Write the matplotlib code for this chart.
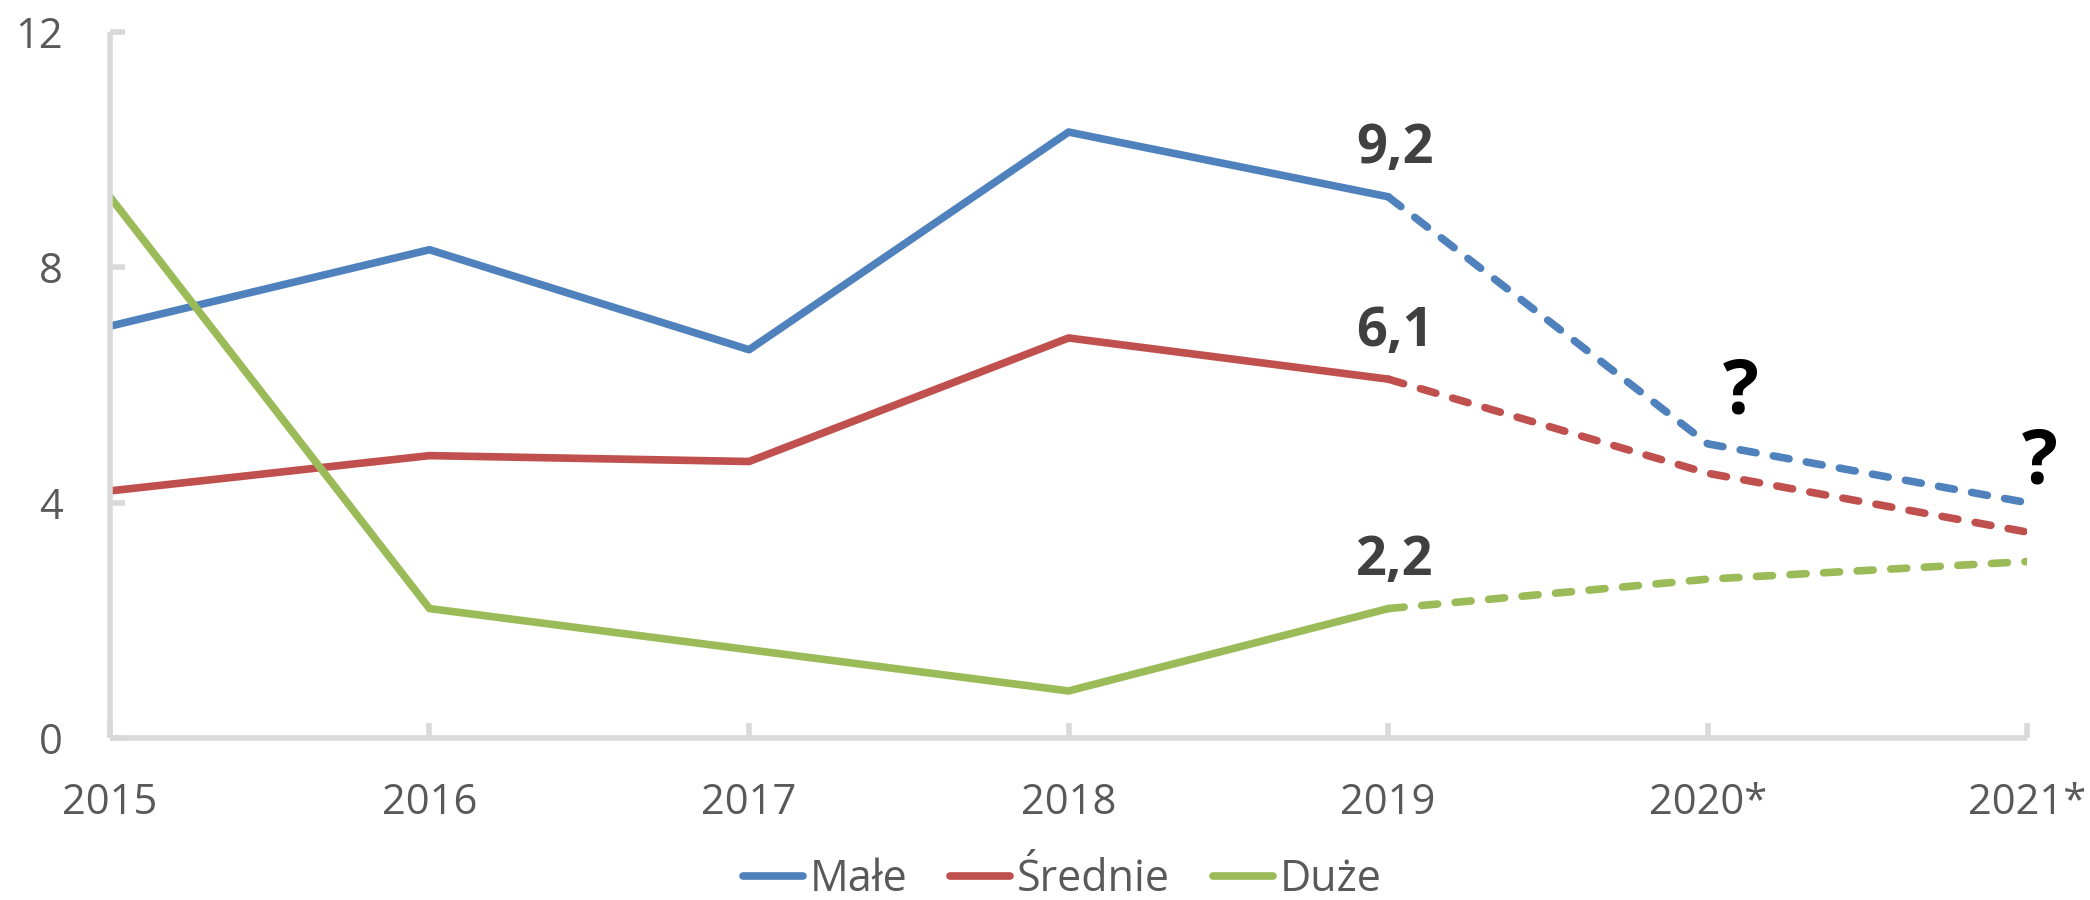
import matplotlib
matplotlib.use("Agg")
import matplotlib.pyplot as plt

plt.rcParams['font.family'] = ['Open Sans', 'DejaVu Sans']

# dane
lata = ['2015', '2016', '2017', '2018', '2019', '2020*', '2021*']
male = [7.0, 8.3, 6.6, 10.3, 9.2, 5.0, 4.0]
srednie = [4.2, 4.8, 4.7, 6.8, 6.1, 4.5, 3.5]
duze = [9.2, 2.2, 1.5, 0.8, 2.2, 2.7, 3.0]
serie = [('Małe', male, '#4F81BD'),
         ('Średnie', srednie, '#C0504D'),
         ('Duże', duze, '#9BBB59')]
ostatni_rzeczywisty = 4  # 2019, dalej prognoza

fig = plt.figure(figsize=(20.9, 9), dpi=100)
ax = fig.add_axes([0.0526, 0.18, 0.9174, 0.7844])

x = list(range(len(lata)))
k = ostatni_rzeczywisty
for nazwa, wart, kolor in serie:
    ax.plot(x[:k + 1], wart[:k + 1], color=kolor, lw=5.5, label=nazwa,
            solid_capstyle='round', solid_joinstyle='round')
    ax.plot(x[k:], wart[k:], color=kolor, lw=5.5, dashes=(2.1, 2.3),
            dash_capstyle='round', dash_joinstyle='round')
    # etykieta wartosci dla 2019
    ax.annotate(f"{wart[k]:.1f}".replace('.', ','), (x[k], wart[k]),
                xytext=(5, 24), textcoords='offset points',
                ha='center', va='baseline', fontsize=39, fontweight='bold',
                color='#404040')

# znaki zapytania przy prognozach
ax.annotate('?', (x[5], male[5]), xytext=(24, 22), textcoords='offset points',
            ha='center', va='baseline', fontsize=54, fontweight='bold', color='black')
ax.annotate('?', (x[6], male[6]), xytext=(9, 14), textcoords='offset points',
            ha='center', va='baseline', fontsize=54, fontweight='bold', color='black',
            annotation_clip=False)

ax.set_xlim(0, len(lata) - 1)
ax.set_ylim(0, 12)
ax.set_xticks(x)
ax.set_xticklabels(lata)
ax.set_yticks([0, 4, 8, 12])

for s in ['top', 'right']:
    ax.spines[s].set_visible(False)
for s in ['left', 'bottom']:
    ax.spines[s].set_color('#D9D9D9')
    ax.spines[s].set_linewidth(4)
    ax.spines[s].set_capstyle('butt')

ax.tick_params(axis='both', direction='in', length=11, width=4, color='#D9D9D9',
               labelsize=30, labelcolor='#595959', pad=32)
ax.tick_params(axis='y', pad=34)

leg = ax.legend(loc='center', bbox_to_anchor=(1062 / 2090, 1 - 880 / 900),
                bbox_transform=fig.transFigure, ncol=3, frameon=False,
                fontsize=31, handlelength=1.4, handletextpad=0.15,
                columnspacing=1.0, labelcolor='#595959')
for h in leg.get_lines():
    h.set_solid_capstyle('round')

fig.savefig('out.png', dpi=100)
